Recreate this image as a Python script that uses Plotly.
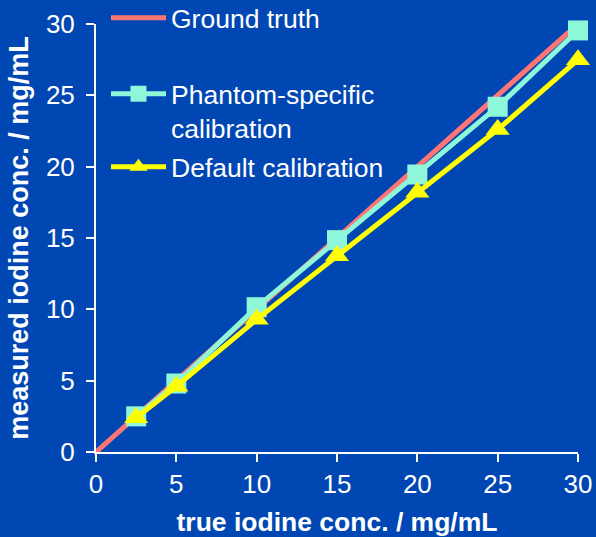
import plotly.graph_objects as go

truth_x = [0, 30]
truth_y = [0, 30]
conc = [2.5, 5, 10, 15, 20, 25, 30]
phantom = [2.5, 4.8, 10.15, 14.85, 19.45, 24.2, 29.55]
default = [2.4, 4.6, 9.3, 13.75, 18.2, 22.6, 27.5]

BG = "#0047B3"
fig = go.Figure()
fig.add_trace(go.Scatter(x=truth_x, y=truth_y, mode="lines", name="Ground truth",
                         line=dict(color="#FF7575", width=5), cliponaxis=False,
                         legend="legend"))
fig.add_trace(go.Scatter(x=conc, y=phantom, mode="lines+markers",
                         name="Phantom-specific<br>calibration",
                         line=dict(color="#8EF7D9", width=5),
                         marker=dict(symbol="square", size=20, color="#8EF7D9"),
                         cliponaxis=False, legend="legend2"))
fig.add_trace(go.Scatter(x=conc, y=default, mode="lines+markers",
                         name="Default calibration",
                         line=dict(color="#FFFF00", width=5),
                         marker=dict(symbol="triangle-up", size=21, color="#FFFF00"),
                         cliponaxis=False, legend="legend3"))

axis_common = dict(range=[0, 30], dtick=5, showgrid=False, zeroline=False,
                   showline=True, linecolor="white", linewidth=2,
                   ticks="outside", ticklen=8, tickwidth=2, tickcolor="white",
                   tickfont=dict(size=26, color="white"), automargin=False)

PL, PR, PT, PB = 96, 578, 24, 452

def leg(ypx, anchor):
    return dict(x=(106 - PL) / (PR - PL), y=(PB - ypx) / (PB - PT),
                xref="paper", yref="paper",
                xanchor="left", yanchor=anchor, bgcolor="rgba(0,0,0,0)",
                font=dict(size=26.5, color="white"), valign="top", itemwidth=55)

fig.update_layout(
    width=596, height=537,
    paper_bgcolor=BG, plot_bgcolor=BG,
    font=dict(family="Liberation Sans, Arial, sans-serif", color="white"),
    margin=dict(l=PL, r=596 - PR, t=PT, b=537 - PB, autoexpand=False),
    xaxis=dict(**axis_common,
               title=dict(text="<b>true iodine conc. / mg/mL</b>",
                          font=dict(size=26.5, color="white"), standoff=17)),
    yaxis=dict(**axis_common, ticklabelstandoff=6,
               title=dict(text="<b>measured iodine conc. / mg/mL</b>",
                          font=dict(size=27, color="white"), standoff=9)),
    legend=leg(18, "middle"),
    legend2=leg(70, "top"),
    legend3=leg(167, "middle"),
    showlegend=True,
)
fig.write_html("out.html", post_script="document.body.style.margin='0px';",
               config={"displayModeBar": False})
